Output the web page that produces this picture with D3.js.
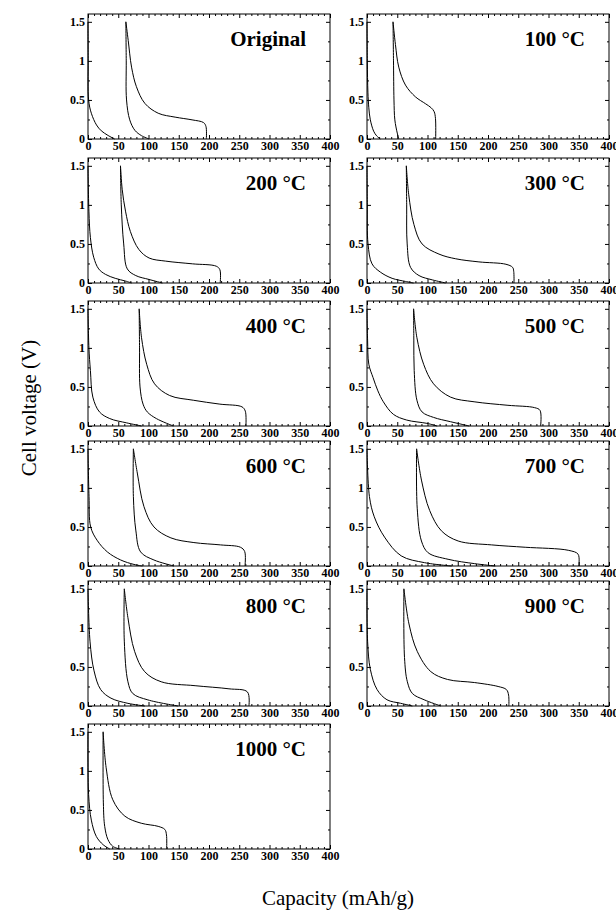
<!DOCTYPE html>
<html>
<head>
<meta charset="utf-8">
<script src="https://cdn.jsdelivr.net/npm/d3@7"></script>
<style>
  body { margin: 0; background: #fff; }
  svg { display: block; }
</style>
</head>
<body>
<div id="chart"></div>
<script>
// panel titles, in reading order (left to right, top to bottom)
const panelTitles = ["Original", "100 °C", "200 °C", "300 °C", "400 °C", "500 °C",
                     "600 °C", "700 °C", "800 °C", "900 °C", "1000 °C"];

const xMajor = [0, 50, 100, 150, 200, 250, 300, 350, 400];
const yMajor = [0, 0.5, 1, 1.5];

// curve starting at the origin, [capacity, voltage]
const curveA = [
  [[0,1.5],[0.3,1.0],[1,0.5],[5.5,0.33],[14,0.18],[22,0.105],[33,0.046],[44,0]],
  [[0,1.5],[0.5,1.0],[1.5,0.6],[3,0.4],[5.5,0.245],[11,0.1],[16,0.04],[22,0]],
  [[0,1.5],[1.5,0.92],[4,0.58],[9.4,0.33],[17.7,0.18],[29,0.11],[45,0.06],[62,0.025],[72,0]],
  [[0,1.5],[0.5,1.0],[1.7,0.5],[8.3,0.245],[22,0.14],[41.5,0.06],[63.6,0.02],[77,0]],
  [[0,1.5],[1.5,1.0],[4,0.71],[8,0.37],[19,0.18],[36,0.095],[64,0.04],[88.5,0]],
  [[0,1.5],[1,1.1],[3,0.79],[10,0.62],[18,0.45],[27,0.31],[43.5,0.15],[65.7,0.076],[99,0.034],[116,0]],
  [[0,1.5],[1.7,0.89],[4.4,0.5],[15,0.33],[32,0.18],[54,0.077],[76,0.02],[90,0]],
  [[0,1.5],[4,0.89],[12,0.63],[29,0.37],[56.5,0.13],[95,0.043],[140,0]],
  [[0,1.5],[3.3,0.83],[10,0.45],[21,0.21],[38,0.1],[66,0.034],[94,0]],
  [[0,1.5],[1,0.83],[5.5,0.47],[16.7,0.21],[33,0.08],[55.5,0.035],[75,0]],
  [[0,1.5],[1,0.7],[5.5,0.37],[13.8,0.16],[25,0.055],[36,0]]
];

// steep curve from the 1.5 V point down to zero
const curveB = [
  [[62.6,1.5],[63.2,1.0],[63.7,0.5],[69,0.245],[77.6,0.11],[88.6,0.042],[101,0]],
  [[43,1.5],[43.8,1.0],[44.6,0.5],[46,0.245],[50,0.076],[52.5,0]],
  [[53.7,1.5],[55,1.0],[59,0.5],[65,0.18],[79,0.095],[101,0.045],[123,0]],
  [[65,1.5],[65.6,1.0],[66.4,0.5],[72,0.2],[86,0.095],[108,0.04],[130,0]],
  [[84.6,1.5],[85.2,1.0],[86,0.5],[91,0.28],[98,0.18],[113,0.095],[141,0]],
  [[77,1.5],[77.4,1.1],[78,0.71],[82.5,0.33],[91,0.18],[110,0.11],[138,0.055],[169,0]],
  [[75,1.5],[75,0.89],[79,0.46],[87,0.18],[109,0.077],[142,0]],
  [[82,1.5],[83,0.74],[90,0.32],[101,0.17],[134,0.086],[178,0.03],[212,0]],
  [[60,1.5],[60,0.83],[66,0.31],[74,0.16],[99,0.078],[149,0]],
  [[61,1.5],[62,0.62],[66.7,0.31],[75,0.16],[94.4,0.08],[122,0]],
  [[25,1.5],[25.4,0.59],[27.6,0.29],[33,0.12],[41,0.034],[52.4,0]]
];

// curve with the long plateau and the vertical drop at the end
const curveC = [
  [[62.6,1.5],[66.5,1.26],[72,0.92],[80,0.67],[94,0.456],[116,0.33],[144,0.28],[172,0.245],[191,0.21],[195,0.16],[195.6,0]],
  [[43,1.5],[47,1.21],[52.5,0.92],[63.6,0.69],[80,0.54],[97,0.45],[106,0.4],[111,0.35],[113.2,0.26],[113.5,0]],
  [[53.7,1.5],[56.5,1.2],[62,0.92],[70,0.66],[84,0.43],[101,0.32],[128.5,0.28],[173,0.245],[212,0.215],[218,0.17],[218.5,0]],
  [[65,1.5],[69,1.13],[77.5,0.75],[91,0.5],[119,0.37],[146.6,0.31],[185,0.27],[229.6,0.24],[240.7,0.2],[242.5,0.15],[243,0]],
  [[84.6,1.5],[88.5,1.13],[97,0.79],[110,0.54],[135,0.39],[174,0.33],[218,0.28],[254.5,0.245],[260,0.19],[261,0]],
  [[77,1.5],[82.5,1.13],[93.6,0.79],[110,0.54],[138,0.37],[177,0.31],[233,0.265],[277,0.235],[286,0.2],[287,0]],
  [[75,1.5],[81.5,1.19],[92.5,0.76],[109,0.5],[137,0.36],[175,0.3],[219,0.27],[252,0.24],[259,0.185],[259.5,0]],
  [[82,1.5],[90,1.1],[103.6,0.71],[123,0.45],[150.7,0.32],[206,0.27],[261.5,0.24],[333.5,0.2],[349,0.15],[350,0]],
  [[60,1.5],[66,1.13],[77,0.7],[93.6,0.44],[121,0.31],[177,0.26],[233,0.22],[263.5,0.18],[266,0]],
  [[61,1.5],[69.4,1.05],[83,0.7],[105.5,0.44],[133,0.34],[178,0.3],[216.7,0.25],[230.5,0.21],[234,0.14],[234.5,0]],
  [[25,1.5],[30,1.04],[41,0.63],[61,0.42],[88,0.33],[116,0.29],[127,0.25],[129.7,0.18],[130,0]]
];

const width = 616, height = 913;
const colLeft = [88, 367];
const rowBottom = [139, 283, 426, 566, 706, 849];
const pw = 242, ph = 125;

const svg = d3.select('#chart')
  .append('svg')
  .attr('width', width)
  .attr('height', height)
  .style('font-family', '"Liberation Serif", "Times New Roman", serif');

const x = d3.scaleLinear().domain([0, 400]).range([0, pw]);
const y = d3.scaleLinear().domain([0, 1.6]).range([ph, 0]);

const line = d3.line()
  .x(d => x(d[0]))
  .y(d => y(d[1]))
  .curve(d3.curveCatmullRom.alpha(0.5));

const xMinor = d3.range(0, 401, 10).filter(v => v % 50 !== 0);
const yMinor = [0.25, 0.75, 1.25];

panelTitles.forEach((title, i) => {
  const row = Math.floor(i / 2), col = i % 2;
  const g = svg.append('g')
    .attr('transform', `translate(${colLeft[col]},${rowBottom[row] - ph})`);

  // inward ticks on all four sides
  const addAxis = (axis, tf) => {
    const a = g.append('g').attr('transform', tf).call(axis);
    a.select('.domain').remove();
    a.selectAll('line').attr('stroke', '#000');
    return a;
  };

  const xb = addAxis(d3.axisBottom(x).tickValues(xMajor).tickSizeInner(-4).tickSizeOuter(0).tickPadding(2), `translate(0,${ph})`);
  addAxis(d3.axisBottom(x).tickValues(xMinor).tickSize(-2).tickFormat(''), `translate(0,${ph})`);
  addAxis(d3.axisTop(x).tickValues(xMajor).tickSize(-4).tickFormat(''), 'translate(0,0)');
  addAxis(d3.axisTop(x).tickValues(xMinor).tickSize(-2).tickFormat(''), 'translate(0,0)');

  const yl = addAxis(d3.axisLeft(y).tickValues(yMajor).tickSizeInner(-4).tickSizeOuter(0).tickPadding(3).tickFormat(d3.format('')), 'translate(0,0)');
  addAxis(d3.axisLeft(y).tickValues(yMinor).tickSize(-2).tickFormat(''), 'translate(0,0)');
  addAxis(d3.axisRight(y).tickValues(yMajor).tickSize(-4).tickFormat(''), `translate(${pw},0)`);
  addAxis(d3.axisRight(y).tickValues(yMinor).tickSize(-2).tickFormat(''), `translate(${pw},0)`);

  [xb, yl].forEach(a => a.selectAll('text')
    .style('font-family', '"Liberation Serif", serif')
    .style('font-weight', 'bold')
    .style('font-size', '12px')
    .attr('fill', '#000'));

  // frame
  g.append('rect')
    .attr('width', pw).attr('height', ph)
    .attr('fill', 'none').attr('stroke', '#000').attr('stroke-width', 1);

  [curveA[i], curveB[i], curveC[i]].forEach(pts => {
    g.append('path')
      .datum(pts)
      .attr('d', line)
      .attr('fill', 'none')
      .attr('stroke', '#000')
      .attr('stroke-width', 1);
  });

  g.append('text')
    .attr('x', pw - 24)
    .attr('y', 32)
    .attr('text-anchor', 'end')
    .style('font-weight', 'bold')
    .style('font-size', '21px')
    .text(title);
});

// shared axis titles
svg.append('text')
  .attr('transform', 'translate(36,408) rotate(-90)')
  .attr('text-anchor', 'middle')
  .style('font-size', '21px')
  .text('Cell voltage (V)');

svg.append('text')
  .attr('x', 338)
  .attr('y', 905)
  .attr('text-anchor', 'middle')
  .style('font-size', '21px')
  .text('Capacity (mAh/g)');
</script>
</body>
</html>
